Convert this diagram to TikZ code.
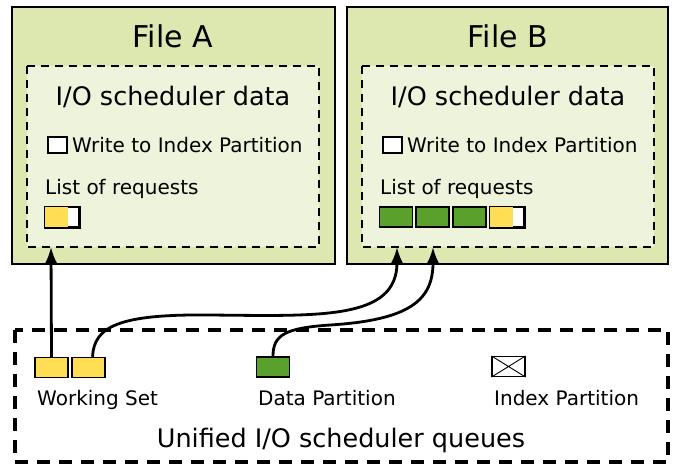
\documentclass[tikz,border=0pt]{standalone}
\usepackage{fontspec}
\setmainfont{DejaVu Sans}
\usepackage{xcolor}
\definecolor{fileFill}{HTML}{DDE8B0}
\definecolor{schedFill}{HTML}{EEF3DB}
\definecolor{reqYellow}{HTML}{FFDD55}
\definecolor{reqGreen}{HTML}{5AA02C}
\usetikzlibrary{arrows.meta}

\tikzset{
  filebox/.style={draw=black, line width=2.4pt, fill=fileFill},
  schedbox/.style={draw=black, line width=1.8pt, fill=schedFill, dash pattern=on 8pt off 6pt},
  queuebox/.style={draw=black, line width=3.2pt, dash pattern=on 13pt off 9pt},
  req/.style={draw=black, line width=1.5pt, minimum width=33pt, minimum height=20pt, inner sep=0pt},
  chk/.style={draw=black, line width=1.1pt, fill=white, minimum width=19pt, minimum height=16pt, inner sep=0pt},
  lbl/.style={anchor=west, font=\fontsize{20}{22}\selectfont, inner sep=0pt},
  link/.style={line width=2.8pt, -{Latex[length=17pt,width=13pt]}}
}

\begin{document}
\begin{tikzpicture}[x=1pt, y=-1pt]
  \useasboundingbox (0,0) rectangle (677,464);
  % file A
  \filldraw[filebox] (12,7) rectangle (335,264);
  \node[font=\fontsize{30}{32}\selectfont] (titleA) at (173,36) {File A};
  \filldraw[schedbox] (27,66) rectangle (319,247);
  \node[font=\fontsize{25.5}{28}\selectfont] (schedA) at (173,97) {I/O scheduler data};
  \node[chk] (chkA) at (57.5,145) {};
  \node[lbl] (writeA) at (72,145) {Write to Index Partition};
  \node[lbl] (listA) at (45,189) {List of requests};
  \node[req, minimum width=34pt, fill=white] (reqA) at (62,217) {};
  \fill[reqYellow] (reqA.north west) rectangle ([xshift=-12pt]reqA.south east);
  \draw[line width=1.5pt] (reqA.north west) rectangle (reqA.south east);
  % file B
  \filldraw[filebox] (347,7) rectangle (668,264);
  \node[font=\fontsize{30}{32}\selectfont] (titleB) at (508,36) {File B};
  \filldraw[schedbox] (362,66) rectangle (654,247);
  \node[font=\fontsize{25.5}{28}\selectfont] (schedB) at (508,97) {I/O scheduler data};
  \node[chk] (chkB) at (392.5,145) {};
  \node[lbl] (writeB) at (407,145) {Write to Index Partition};
  \node[lbl] (listB) at (380,189) {List of requests};
  \node[req, fill=reqGreen] (reqB1) at (396,217) {};
  \node[req, fill=reqGreen] (reqB2) at (432.5,217) {};
  \node[req, fill=reqGreen] (reqB3) at (469.5,217) {};
  \node[req, minimum width=34pt, fill=white] (reqB4) at (507,217) {};
  \fill[reqYellow] (reqB4.north west) rectangle ([xshift=-12pt]reqB4.south east);
  \draw[line width=1.5pt] (reqB4.north west) rectangle (reqB4.south east);
  % scheduler queues
  \draw[queuebox] (15,330) rectangle (668,462);
  \node[req, fill=reqYellow] (ws1) at (51.5,367.5) {};
  \node[req, fill=reqYellow] (ws2) at (88.5,367.5) {};
  \node[lbl] (wsLabel) at (37,400) {Working Set};
  \node[req, fill=reqGreen] (dp) at (273,367) {};
  \node[lbl] (dpLabel) at (258,398) {Data Partition};
  \node[req, fill=white, line width=1.2pt] (ip) at (508.5,366.5) {};
  \draw[line width=0.9pt] (ip.north west) -- (ip.south east) (ip.south west) -- (ip.north east);
  \node[lbl] (ipLabel) at (494,398) {Index Partition};
  \node[font=\fontsize{25.5}{28}\selectfont] (queues) at (341,440) {Unified I/O scheduler queues};
  % connectors
  \coordinate (inA) at (51,247);
  \coordinate (inB1) at (397,247);
  \coordinate (inB2) at (433,247);
  \draw[link] (ws1.north) -- (inA);
  \draw[link] ([xshift=4pt]ws2.north) .. controls (94,326) and (120,314) .. (210,315)
    .. controls (320,316) and (397,320) .. (inB1);
  \draw[link] (dp.north) .. controls (273,335) and (285,328) .. (330,325)
    .. controls (410,320) and (433,300) .. (inB2);
\end{tikzpicture}
\end{document}
